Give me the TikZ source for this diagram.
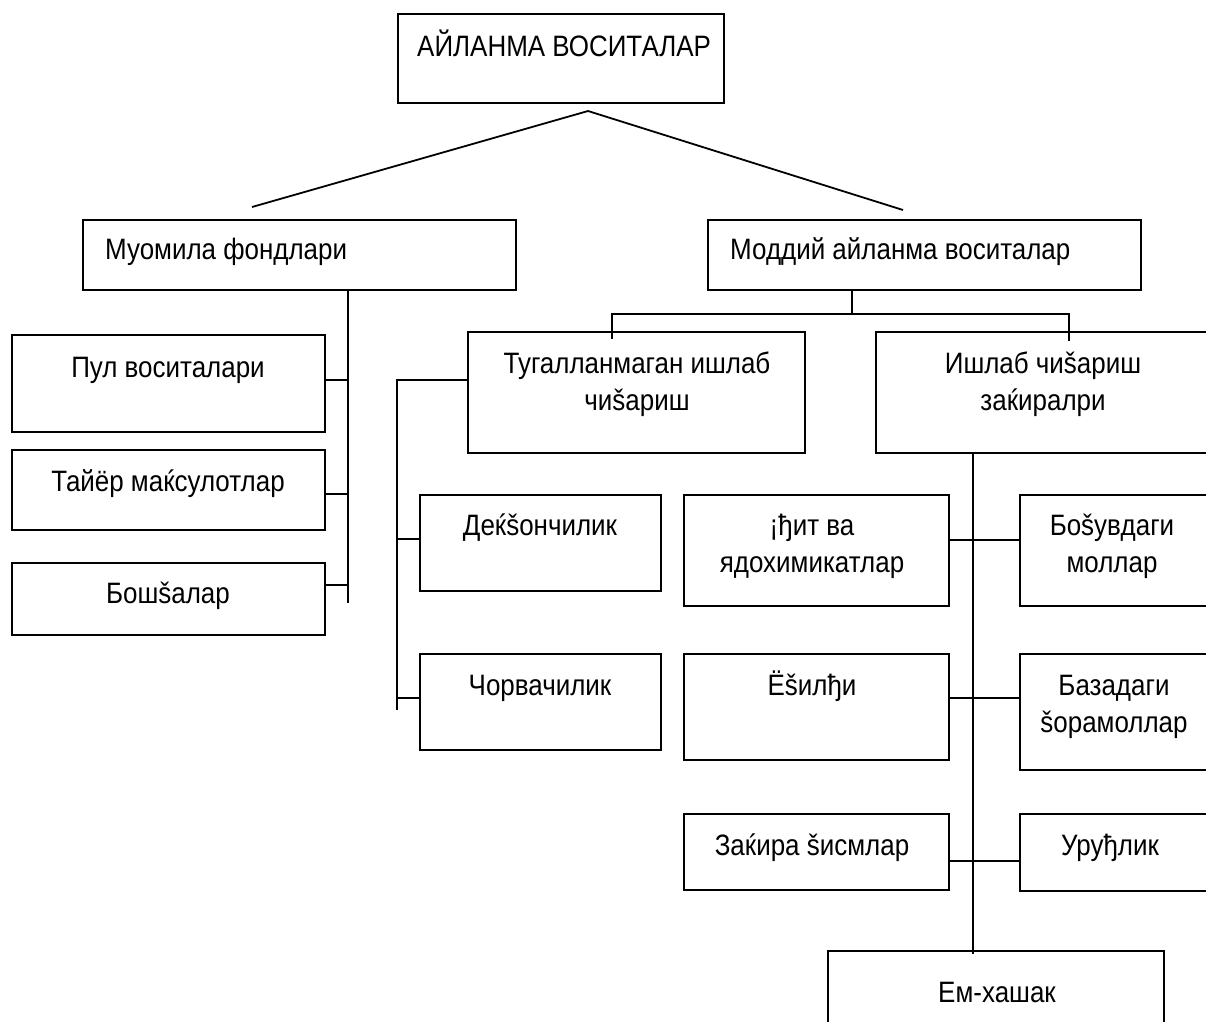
\documentclass[tikz,border=0pt]{standalone}
\usepackage{fontspec}
\setmainfont{Liberation Sans}[FakeStretch=0.88]
\begin{document}
\begin{tikzpicture}[x=1pt,y=-1pt,
  box/.style={draw, line width=1.8pt, rectangle, inner sep=0pt, outer sep=0pt, anchor=north west},
  txt/.style={font=\fontsize{29.5}{35}\selectfont, inner sep=0pt, anchor=base},
  ln/.style={line width=1.8pt}]
\useasboundingbox (0,0) rectangle (1206,1021);
\clip (0,0) rectangle (1206,1021);
\fill[white] (0,0) rectangle (1206,1021);
% boxes
\node[box, minimum width=326pt, minimum height=89pt] (T) at (398,14) {};
\node[box, minimum width=433pt, minimum height=70pt] (M1) at (83,220) {};
\node[box, minimum width=433pt, minimum height=70pt] (M2) at (708,220) {};
\node[box, minimum width=313pt, minimum height=97pt] (P1) at (12,335) {};
\node[box, minimum width=313pt, minimum height=80pt] (P2) at (12,450) {};
\node[box, minimum width=313pt, minimum height=72pt] (P3) at (12,563) {};
\node[box, minimum width=337pt, minimum height=121pt] (T1) at (468,332) {};
\node[box, minimum width=345pt, minimum height=121pt] (I1) at (876,332) {};
\node[box, minimum width=241pt, minimum height=96pt] (D1) at (420,495) {};
\node[box, minimum width=241pt, minimum height=96pt] (D2) at (420,654) {};
\node[box, minimum width=265pt, minimum height=111pt] (O1) at (684,495) {};
\node[box, minimum width=265pt, minimum height=106pt] (O2) at (684,654) {};
\node[box, minimum width=265pt, minimum height=76pt] (O3) at (684,814) {};
\node[box, minimum width=200pt, minimum height=111pt] (R1) at (1020,495) {};
\node[box, minimum width=200pt, minimum height=116pt] (R2) at (1020,654) {};
\node[box, minimum width=200pt, minimum height=77pt] (R3) at (1020,814) {};
\node[box, minimum width=336pt, minimum height=100pt] (E) at (828,951) {};
% texts
\node[txt, anchor=base west] (tT) at (417,56) {АЙЛАНМА ВОСИТАЛАР};
\node[txt, anchor=base west] (tM1) at (105,259) {Муомила фондлари};
\node[txt, anchor=base west] (tM2) at (730,259) {Моддий айланма воситалар};
\node[txt] (tP1) at (168,377) {Пул воситалари};
\node[txt] (tP2) at (168,491) {Тайёр маќсулотлар};
\node[txt] (tP3) at (168,603) {Бошšалар};
\node[txt] (tT1a) at (637,373) {Тугалланмаган ишлаб};
\node[txt] (tT1b) at (637,410) {чиšариш};
\node[txt] (tI1a) at (1043,373) {Ишлаб чиšариш};
\node[txt] (tI1b) at (1043,410) {заќиралри};
\node[txt] (tD1) at (540,535) {Деќšончилик};
\node[txt] (tD2) at (540,695) {Чорвачилик};
\node[txt] (tO1a) at (812,535) {¡ђит ва};
\node[txt] (tO1b) at (812,572) {ядохимикатлар};
\node[txt] (tO2) at (812,695) {Ёšилђи};
\node[txt] (tO3) at (812,855) {Заќира šисмлар};
\node[txt] (tR1a) at (1112,535) {Боšувдаги};
\node[txt] (tR1b) at (1112,572) {моллар};
\node[txt] (tR2a) at (1114,695) {Базадаги};
\node[txt] (tR2b) at (1114,732) {šорамоллар};
\node[txt] (tR3) at (1110,855) {Уруђлик};
\node[txt] (tE) at (997,1002) {Ем-хашак};
% connector coordinates
\coordinate (apex) at (588,111);
\coordinate (lend) at (252,207);
\coordinate (rend) at (903,210);
\coordinate (s1top) at (348,290);
\coordinate (s1bot) at (348,603);
\coordinate (m2top) at (852,290);
\coordinate (m2j) at (852,314);
\coordinate (hl) at (612,314);
\coordinate (hr) at (1069,314);
\coordinate (hld) at (612,339);
\coordinate (hrd) at (1069,341);
\coordinate (s2top) at (397,380);
\coordinate (s2bot) at (397,710);
\coordinate (s3top) at (973,452);
\coordinate (s3bot) at (973,954);
% connectors
\draw[ln] (apex) -- (lend);
\draw[ln] (apex) -- (rend);
\draw[ln] (s1top) -- (s1bot);
\draw[ln] (P1.east |- 0,380) -- (348,380);
\draw[ln] (P2.east |- 0,494) -- (348,494);
\draw[ln] (P3.east |- 0,585) -- (348,585);
\draw[ln] (m2top) -- (m2j);
\draw[ln] (hld) -- (hl) -- (hr) -- (hrd);
\draw[ln] (T1.west |- s2top) -- (s2top) -- (s2bot);
\draw[ln] (397,539) -- (D1.west |- 0,539);
\draw[ln] (397,698) -- (D2.west |- 0,698);
\draw[ln] (s3top) -- (s3bot);
\draw[ln] (O1.east |- 0,540) -- (R1.west |- 0,540);
\draw[ln] (O2.east |- 0,698) -- (R2.west |- 0,698);
\draw[ln] (O3.east |- 0,861) -- (R3.west |- 0,861);
\end{tikzpicture}
\end{document}
